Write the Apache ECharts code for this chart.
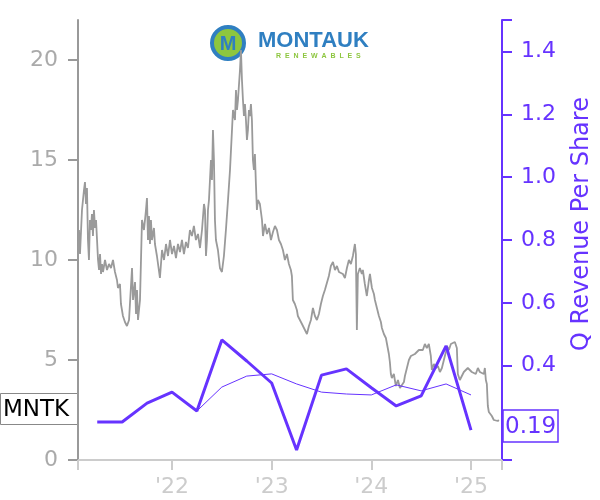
<!DOCTYPE html>
<html>
<head>
<meta charset="utf-8">
<script src="https://cdn.jsdelivr.net/npm/echarts@6/dist/echarts.min.js"></script>
<style>html,body{margin:0;padding:0;background:#fff}#c{width:600px;height:500px}</style>
</head>
<body>
<div id="c"></div>
<script>
// ---- data (decimal years) ----
const priceDates = [
2021.057,2021.067,2021.077,2021.097,2021.117,2021.127,2021.137,2021.147,2021.157,2021.167,2021.177,2021.187,2021.197,2021.207,2021.217,2021.228,2021.238,2021.248,2021.258,2021.268,2021.278,2021.288,2021.298,2021.308,2021.328,2021.348,2021.368,2021.388,2021.408,2021.428,2021.448,2021.458,2021.478,2021.488,2021.508,2021.528,2021.548,2021.569,2021.579,2021.599,2021.609,2021.629,2021.639,2021.649,2021.659,2021.679,2021.699,2021.719,2021.739,2021.749,2021.759,2021.769,2021.779,2021.789,2021.799,2021.819,2021.829,2021.849,2021.879,2021.900,2021.920,2021.940,2021.960,2021.980,
2022.000,2022.020,2022.040,2022.060,2022.080,2022.100,2022.120,2022.140,2022.160,2022.180,2022.200,2022.220,2022.240,2022.261,2022.281,2022.301,2022.321,2022.331,2022.341,2022.351,2022.361,2022.371,2022.381,2022.391,2022.401,2022.411,2022.421,2022.431,2022.441,2022.461,2022.481,2022.501,2022.521,2022.541,2022.562,2022.582,2022.602,2022.612,2022.632,2022.642,2022.652,2022.662,2022.682,2022.692,2022.702,2022.712,2022.722,2022.732,2022.742,2022.752,2022.762,2022.772,2022.782,2022.792,2022.802,2022.812,2022.822,2022.832,2022.842,2022.852,2022.862,2022.882,2022.903,2022.913,2022.933,2022.953,2022.973,2022.993,
2023.013,2023.033,2023.053,2023.073,2023.093,2023.113,2023.133,2023.153,2023.173,2023.193,2023.203,2023.213,2023.233,2023.253,2023.263,2023.283,2023.304,2023.324,2023.344,2023.354,2023.374,2023.394,2023.414,2023.434,2023.454,2023.474,2023.494,2023.514,2023.534,2023.554,2023.574,2023.594,2023.615,2023.635,2023.655,2023.675,2023.695,2023.715,2023.735,2023.755,2023.775,2023.795,2023.815,2023.835,2023.845,2023.855,2023.865,2023.885,2023.905,2023.915,2023.935,2023.955,2023.976,2023.986,
2024.006,2024.026,2024.036,2024.056,2024.076,2024.096,2024.106,2024.126,2024.146,2024.156,2024.176,2024.186,2024.196,2024.206,2024.226,2024.246,2024.267,2024.287,2024.307,2024.327,2024.337,2024.357,2024.377,2024.397,2024.417,2024.437,2024.457,2024.477,2024.497,2024.517,2024.537,2024.557,2024.577,2024.587,2024.597,2024.607,2024.627,2024.647,2024.668,2024.688,2024.708,2024.728,2024.748,2024.758,2024.778,2024.798,2024.818,2024.838,2024.858,2024.868,2024.888,2024.908,2024.928,2024.948,2024.968,2024.988,
2025.008,2025.028,2025.048,2025.069,2025.089,2025.109,2025.129,2025.139,2025.149,2025.159,2025.169,2025.179,2025.189,2025.209,2025.229,2025.249,2025.269,2025.279
];
const priceValues = [
10.2,11.5,10.3,12.5,13.5,13.9,12.8,13.6,11.0,10.0,12.0,11.5,12.3,11.2,12.5,11.6,12.0,11.0,10.0,9.5,10.3,9.3,9.8,9.4,10.0,9.5,9.8,9.6,10.0,9.4,9.0,8.6,8.8,7.8,7.2,6.9,6.7,7.0,6.9,9.6,8.0,8.9,7.3,8.5,7.0,8.0,12.0,11.5,12.5,13.1,11.0,12.2,10.8,12.0,11.0,11.6,10.8,10.2,9.1,10.5,10.0,10.8,10.2,11.0,
10.3,10.7,10.1,10.8,10.4,11.0,10.3,10.9,10.6,11.5,11.2,11.7,11.0,11.3,10.6,11.5,12.8,12.5,10.2,11.0,12.5,13.0,14.0,15.0,14.0,16.5,15.0,12.0,11.0,10.5,9.6,9.4,10.2,11.5,13.0,14.5,16.5,17.5,17.0,18.5,17.5,18.0,19.5,20.5,19.0,18.0,17.2,17.8,17.0,16.0,16.5,17.5,17.2,17.8,17.0,15.0,14.5,15.3,13.8,12.5,13.0,12.8,12.0,11.2,11.8,11.3,11.6,11.0,
11.4,11.7,11.5,11.0,10.8,10.5,10.0,10.3,9.8,9.5,9.2,8.0,7.8,7.5,7.2,7.3,6.8,6.6,6.5,6.3,6.7,7.0,7.6,7.2,7.0,7.3,7.8,8.2,8.5,8.6,9.2,9.7,9.9,9.5,9.7,9.4,9.5,9.3,9.1,9.6,10.0,9.8,10.2,10.8,10.3,6.5,9.3,9.6,9.3,9.5,8.8,8.2,9.0,9.3,
8.6,8.3,8.0,7.6,7.2,6.9,6.6,6.3,6.1,6.0,5.3,4.9,4.3,4.1,4.3,3.7,4.0,3.6,3.5,3.9,4.2,4.6,5.0,5.2,5.1,5.3,5.2,5.5,5.6,5.5,5.8,5.6,5.8,5.9,5.2,4.5,4.8,4.6,4.7,4.4,4.6,5.0,5.4,5.7,5.5,5.8,5.7,5.9,5.6,4.3,4.0,4.1,4.4,4.3,4.6,4.7,
4.4,4.5,4.3,4.6,4.4,4.5,4.3,4.6,4.0,3.8,2.7,2.4,2.3,2.2,2.0,2.1,1.95,2.0
];
const quarterDates = [2021.25,2021.5,2021.75,2022.0,2022.25,2022.5,2022.75,2023.0,2023.25,2023.5,2023.75,2024.0,2024.25,2024.5,2024.75,2025.0];
const revenuePerShare = [0.221,0.221,0.281,0.316,0.256,0.482,0.415,0.345,0.132,0.370,0.390,0.330,0.272,0.304,0.463,0.195];
const avgDates = [2022.25,2022.5,2022.75,2023.0,2023.25,2023.5,2023.75,2024.0,2024.25,2024.5,2024.75,2025.0];
const revenueAvg = [0.256,0.332,0.367,0.374,0.342,0.316,0.310,0.307,0.339,0.320,0.342,0.307];
const xTickYears = [2021.057,2022,2023,2024,2025,2025.311];
const xLabelYears = [2022,2023,2024,2025];
const leftTicks = [0,5,10,15,20];
const rightTicks = [0.1,0.4,0.6,0.8,1.0,1.2,1.4,1.5];
const rightLabels = [0.4,0.6,0.8,1.0,1.2,1.4];
const ticker = 'MNTK';
const lastRevenue = '0.19';
const rightAxisName = 'Q Revenue Per Share';

const PURPLE = '#6633ff';
const FONT = 'DejaVu Sans';

const chart = echarts.init(document.getElementById('c'), null, {renderer:'canvas'});
chart.setOption({
  animation:false,
  backgroundColor:'#fff',
  grid:{left:78,right:98,top:20,bottom:40,containLabel:false},
  xAxis:{
    type:'value', min:2021.057, max:2025.311,
    axisLine:{show:true,lineStyle:{color:'#cccccc',width:2}},
    axisTick:{show:true,customValues:xTickYears,length:10,lineStyle:{color:'#cccccc',width:2}},
    axisLabel:{customValues:xLabelYears,color:'#cccccc',fontSize:22,fontFamily:FONT,margin:16,
      formatter:v=>"'"+String(Math.round(v)).slice(2)},
    splitLine:{show:false}
  },
  yAxis:[{
    type:'value', min:0, max:22, position:'left',
    axisLine:{show:true,onZero:false,lineStyle:{color:'#999999',width:2}},
    axisTick:{show:true,customValues:leftTicks,length:10,lineStyle:{color:'#999999',width:2}},
    axisLabel:{customValues:leftTicks,color:'#aaaaaa',fontSize:22,fontFamily:FONT,margin:20},
    splitLine:{show:false}
  },{
    type:'value', min:0.1, max:1.5, position:'right',
    axisLine:{show:true,onZero:false,lineStyle:{color:PURPLE,width:2}},
    axisTick:{show:true,customValues:rightTicks,length:10,lineStyle:{color:PURPLE,width:2}},
    axisLabel:{customValues:rightLabels,color:PURPLE,fontSize:22,fontFamily:FONT,margin:19,
      formatter:v=>v.toFixed(1)},
    splitLine:{show:false}
  }],
  series:[{
    type:'line', yAxisIndex:0, symbol:'none',
    data:priceDates.map((d,i)=>[d,priceValues[i]]),
    lineStyle:{color:'#9a9a9a',width:1.8}, z:2
  },{
    type:'line', yAxisIndex:1, symbol:'none',
    data:avgDates.map((d,i)=>[d,revenueAvg[i]]),
    lineStyle:{color:PURPLE,width:1}, z:3
  },{
    type:'line', yAxisIndex:1, symbol:'none',
    data:quarterDates.map((d,i)=>[d,revenuePerShare[i]]),
    lineStyle:{color:PURPLE,width:3}, z:4
  }],
  graphic:[
    {type:'text',x:582,y:224,rotation:Math.PI/2,
      style:{text:rightAxisName,fill:PURPLE,font:'24px "DejaVu Sans"',textAlign:'center',textVerticalAlign:'middle'},z:10},
    {type:'group',x:0,y:393,z:10,children:[
      {type:'rect',shape:{x:0.5,y:0.5,width:77,height:31},style:{fill:'#fff',stroke:'#888',lineWidth:1}},
      {type:'text',x:3,y:17,style:{text:ticker,fill:'#000',font:'23px "DejaVu Sans"',textVerticalAlign:'middle'}}
    ]},
    {type:'group',x:502,y:409,z:10,children:[
      {type:'rect',shape:{x:1,y:1,width:55,height:32},style:{fill:'#fff',stroke:PURPLE,lineWidth:1.5}},
      {type:'text',x:3,y:18,style:{text:lastRevenue,fill:PURPLE,font:'23px "DejaVu Sans"',textVerticalAlign:'middle'}}
    ]},
    {type:'group',x:210,y:25,z:20,children:[
      {type:'circle',shape:{cx:18,cy:18,r:16},style:{fill:'#8dc63f',stroke:'#2f7fc1',lineWidth:4}},
      {type:'text',x:18,y:19,style:{text:'M',fill:'#2f7fc1',font:'bold 20px "Liberation Sans"',textAlign:'center',textVerticalAlign:'middle'}},
      {type:'text',x:48,y:16,style:{text:'MONTAUK',fill:'#2f7fc1',font:'bold 22px "Liberation Sans"',textVerticalAlign:'middle'}},
      {type:'text',x:66,y:31,style:{text:'R  E  N  E  W  A  B  L  E  S',fill:'#8dc63f',font:'bold 7px "Liberation Sans"',textVerticalAlign:'middle'}}
    ]}
  ]
});
</script>
</body>
</html>
